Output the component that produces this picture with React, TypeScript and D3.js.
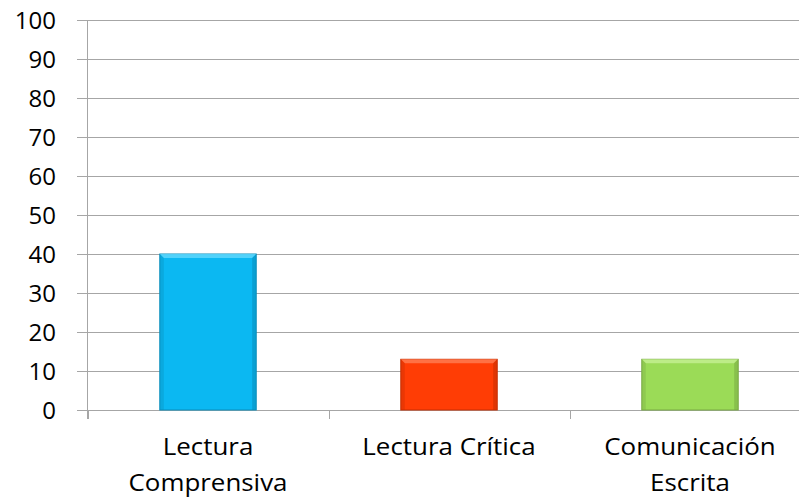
import React from "react";
import * as d3 from "d3";

const categories = ["Lectura Comprensiva", "Lectura Crítica", "Comunicación Escrita"];
const categoryLines = [["Lectura", "Comprensiva"], ["Lectura Crítica"], ["Comunicación", "Escrita"]];
const values = [40, 13, 13];
const yTicks = [0, 10, 20, 30, 40, 50, 60, 70, 80, 90, 100];
const barColors = ["#0BB8F2", "#FF3D05", "#9BDB57"];
const barDark = ["#0A8DBA", "#C42F04", "#78A944"];
const barLight = ["#5FD6FB", "#FF7A50", "#C3EE8F"];

const W = 799;
const H = 497;
const left = 87.5;
const right = 810.5;
const top = 20;
const bottom = 410;
const FONT = "'Open Sans', sans-serif";

export default function App() {
  const x = d3.scaleBand<string>().domain(categories).range([left, right]).paddingInner(0.6).paddingOuter(0.3);
  const y = d3.scaleLinear().domain([0, 100]).range([bottom, top]);
  const step = x.step();
  const bounds = d3.range(categories.length + 1).map((i) => left + i * step);
  const bw = x.bandwidth();
  const bev = 4;

  return (
    <svg width={W} height={H} style={{ position: "absolute", left: 0, top: 0, background: "#fff" }} fontFamily={FONT}>
      {yTicks.map((t) => (
        <g key={t}>
          <line x1={77} x2={W} y1={Math.round(y(t)) + 0.5} y2={Math.round(y(t)) + 0.5} stroke="#a6a6a6" strokeWidth={1} />
          <text x={56} y={y(t)} dy="0.36em" textAnchor="end" fontSize={24} fill="#000">
            {t}
          </text>
        </g>
      ))}
      <line x1={left} x2={left} y1={top} y2={bottom + 9} stroke="#a6a6a6" />
      {bounds.map((b, i) => (
        <line key={i} x1={Math.round(b) + 0.5} x2={Math.round(b) + 0.5} y1={bottom} y2={bottom + 9} stroke="#a6a6a6" />
      ))}
      {categories.map((c, i) => {
        const x0 = x(c)!;
        const y0 = y(values[i]);
        const x1 = x0 + bw;
        const y1 = bottom;
        return (
          <g key={c}>
            <rect x={x0} y={y0} width={bw} height={y1 - y0} fill={barColors[i]} stroke={barDark[i]} strokeWidth={1} />
            <polygon points={`${x0},${y0} ${x1},${y0} ${x1 - bev},${y0 + bev} ${x0 + bev},${y0 + bev}`} fill={barLight[i]} opacity={0.85} />
            <polygon points={`${x0},${y0} ${x0 + bev},${y0 + bev} ${x0 + bev},${y1} ${x0},${y1}`} fill={barDark[i]} opacity={0.35} />
            <polygon points={`${x1},${y0} ${x1 - bev},${y0 + bev} ${x1 - bev},${y1} ${x1},${y1}`} fill={barDark[i]} opacity={0.55} />
          </g>
        );
      })}
      {categories.map((c, i) => {
        const cx = x(c)! + bw / 2;
        return (
          <text key={c} textAnchor="middle" fontSize={24} fill="#000" transform={`translate(${cx},0) scale(1.08,1)`}>
            {categoryLines[i].map((ln, j) => (
              <tspan key={j} x={0} y={455 + j * 36}>
                {ln}
              </tspan>
            ))}
          </text>
        );
      })}
    </svg>
  );
}
